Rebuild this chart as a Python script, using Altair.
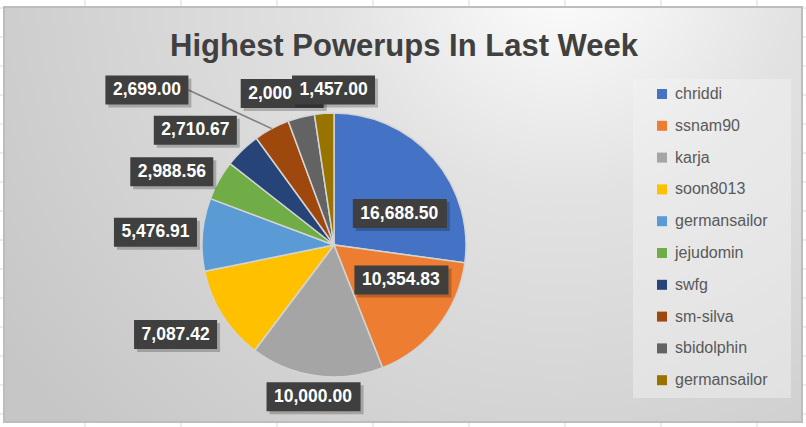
import altair as alt
import pandas as pd

# ---------------- data ----------------
names = ["chriddi", "ssnam90", "karja", "soon8013", "germansailor",
         "jejudomin", "swfg", "sm-silva", "sbidolphin", "germansailor"]
values = [16688.50, 10354.83, 10000.00, 7087.42, 5476.91,
          2988.56, 2710.67, 2699.00, 2000.00, 1457.00]
colors = ["#4472C4", "#ED7D31", "#A5A5A5", "#FFC000", "#5B9BD5",
          "#70AD47", "#264478", "#9E480E", "#636363", "#997300"]
title_text = "Highest Powerups In Last Week"

# ---------------- layout / style ----------------
# label placement (Excel "best fit"): distance from centre and angular nudge (deg)
label_r = [73, 76, 153, 182, 179, 178, 180, 243, 160, 155]
label_nudge = [15.6, -10.6, 0, 2.8, -0.4, -5.0, -6.4, -22.2, -4.5, 4.1]
leader = [0, 0, 0, 0, 0, 0, 0, 1, 0, 0]
# spreadsheet cell grid behind the chart object
grid_cols = [85, 181, 277, 373, 469, 565, 661, 757]
grid_rows = [8, 37, 66, 95, 124, 153, 182, 211, 240, 269, 298, 327, 356, 385, 414]

W, H = 806, 427
CX, CY, R = 334, 245, 132
FONT = "Liberation Sans"

keys = [f"{i:02d}|{n}" for i, n in enumerate(names)]
df = pd.DataFrame({
    "idx": list(range(len(names))),
    "name": names,
    "key": keys,
    "value": values,
    "lr": label_r,
    "nudge": label_nudge,
    "leader": leader,
})

one = pd.DataFrame({"a": [0]})

# spreadsheet grid
vgrid = alt.Chart(pd.DataFrame({"gx": grid_cols})).mark_rule(
    color="#d9d9d9", strokeWidth=1).encode(
    x=alt.X("gx:Q", scale=None), y=alt.value(0), y2=alt.value(H))
hgrid = alt.Chart(pd.DataFrame({"gy": grid_rows})).mark_rule(
    color="#d9d9d9", strokeWidth=1).encode(
    y=alt.Y("gy:Q", scale=None), x=alt.value(0), x2=alt.value(W))

# chart area with radial gradient
grad = alt.RadialGradient(
    gradient="radial",
    x1=0.70, y1=0.18, x2=0.70, y2=0.18, r1=0.0, r2=0.85,
    stops=[alt.GradientStop(color="#ffffff", offset=0),
           alt.GradientStop(color="#e2e2e2", offset=0.35),
           alt.GradientStop(color="#c6c6c6", offset=1)],
)
area = alt.Chart(one).mark_rect(fill=grad, stroke="#bdbdbd", strokeWidth=2).encode(
    x=alt.value(4), x2=alt.value(802), y=alt.value(7), y2=alt.value(422))

legend_bg = alt.Chart(one).mark_rect(fill="#f4f4f4", opacity=0.45).encode(
    x=alt.value(633), x2=alt.value(791), y=alt.value(79), y2=alt.value(398))

# pie
pie = alt.Chart(df).mark_arc(outerRadius=R, stroke="#d4d4d4", strokeWidth=1.5).encode(
    theta=alt.Theta("value:Q", stack=True),
    order=alt.Order("idx:Q", sort="ascending"),
    color=alt.Color(
        "key:N",
        scale=alt.Scale(domain=keys, range=colors),
        sort=keys,
        legend=alt.Legend(
            orient="none", legendX=654, legendY=86, title=None,
            symbolType="square", symbolSize=100, symbolStrokeWidth=0,
            labelFont=FONT, labelFontSize=16, labelColor="#595959",
            labelOffset=5, rowPadding=15.8, padding=0, labelLimit=200,
            labelExpr="slice(datum.label, 3)",
        ),
    ),
    x=alt.value(CX), y=alt.value(CY),
)

# label geometry
lab = alt.Chart(df).transform_joinaggregate(
    total="sum(value)"
).transform_window(
    cum="sum(value)", sort=[alt.SortField("idx", order="ascending")], frame=[None, 0]
).transform_calculate(
    ang0="(datum.cum - datum.value/2) / datum.total * 2 * PI",
).transform_calculate(
    ang="datum.ang0 + datum.nudge * PI / 180",
    lbl="format(datum.value, ',.2f')",
).transform_calculate(
    lx=f"{CX} + datum.lr * sin(datum.ang)",
    ly=f"{CY} - datum.lr * cos(datum.ang)",
    bw="11 * length(datum.lbl) - 5",
    ex=f"{CX} + {R} * sin(datum.ang0)",
    ey=f"{CY} - {R} * cos(datum.ang0)",
).transform_calculate(
    bx1="datum.lx - datum.bw / 2",
    bx2="datum.lx + datum.bw / 2",
    by1="datum.ly - 14.5",
    by2="datum.ly + 14.5",
).transform_calculate(
    sx1="datum.bx1 + 3", sx2="datum.bx2 + 3",
    sy1="datum.by1 + 3", sy2="datum.by2 + 3",
    tx="datum.bx1 + 7.5",
)

lead = lab.transform_filter("datum.leader == 1").mark_rule(
    color="#7f7f7f", strokeWidth=1.5).encode(
    x=alt.X("bx2:Q", scale=None), y=alt.Y("ly:Q", scale=None),
    x2="ex:Q", y2="ey:Q")


def label_layers(filt, limit=None):
    src = lab.transform_filter(filt)
    shadow = src.mark_rect(fill="#000000", opacity=0.22).encode(
        x=alt.X("sx1:Q", scale=None), x2="sx2:Q",
        y=alt.Y("sy1:Q", scale=None), y2="sy2:Q")
    box = src.mark_rect(fill="#3f3f3f").encode(
        x=alt.X("bx1:Q", scale=None), x2="bx2:Q",
        y=alt.Y("by1:Q", scale=None), y2="by2:Q")
    kw = dict(font=FONT, fontSize=17.5, fontWeight="bold", color="#ffffff",
              align="left", baseline="middle")
    if limit is not None:
        kw.update(limit=limit, ellipsis=" ")
    txt = src.mark_text(**kw).encode(
        x=alt.X("tx:Q", scale=None), y=alt.Y("ly:Q", scale=None), text="lbl:N")
    return [shadow, box, txt]


title = alt.Chart(pd.DataFrame({"t": [title_text]})).mark_text(
    font=FONT, fontSize=31, fontWeight="bold", color="#404040",
    align="center", baseline="alphabetic").encode(
    text="t:N", x=alt.value(404), y=alt.value(56))

layers = [vgrid, hgrid, area, legend_bg, pie, lead]
layers += label_layers("datum.idx < 8")
# label partly hidden behind its neighbour, as in the source chart
layers += label_layers("datum.idx == 8", limit=50)
layers += label_layers("datum.idx == 9")
layers += [title]

chart = alt.layer(*layers).properties(
    width=W, height=H,
    autosize=alt.AutoSizeParams(type="none"),
    padding=0,
    background="white",
).configure_view(stroke=None)

chart.save("out.html", embed_options={"renderer": "svg", "actions": False})
